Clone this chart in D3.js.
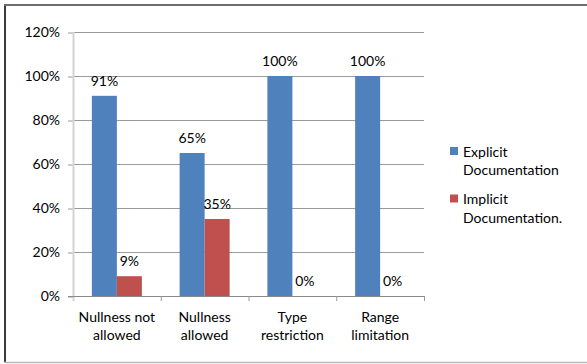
<!DOCTYPE html>
<html>
<head>
<meta charset="utf-8">
<script src="https://cdn.jsdelivr.net/npm/d3@7"></script>
<style>
  body { margin: 0; background: #fff; }
  text { font-family: Lato, "Open Sans", sans-serif; fill: #000; }
</style>
</head>
<body>
<div id="chart"></div>
<script>
const categories = [["Nullness not", "allowed"], ["Nullness", "allowed"], ["Type", "restriction"], ["Range", "limitation"]];
const seriesNames = [["Explicit", "Documentation"], ["Implicit", "Documentation."]];
const explicitValues = [91, 65, 100, 100];
const implicitValues = [9, 35, 0, 0];
const yTicks = [0, 20, 40, 60, 80, 100, 120];
const colors = ["#4F81BD", "#C0504D"];

const width = 587, height = 364;
const svg = d3.select("#chart").append("svg")
  .attr("width", width)
  .attr("height", height);

// outer frame
svg.append("line").attr("x1", 5).attr("x2", 5).attr("y1", 4).attr("y2", 363)
  .attr("stroke", "#3a3a3a").attr("stroke-width", 2);
svg.append("line").attr("x1", 4).attr("x2", 587).attr("y1", 5).attr("y2", 5)
  .attr("stroke", "#6e6e6e").attr("stroke-width", 2);
svg.append("line").attr("x1", 4).attr("x2", 587).attr("y1", 362.5).attr("y2", 362.5)
  .attr("stroke", "#b8b8b8").attr("stroke-width", 1.5);

const plot = { left: 73, right: 424, top: 32, bottom: 296 };

const x0 = d3.scaleBand()
  .domain(d3.range(categories.length))
  .range([plot.left, plot.right])
  .padding(0);

const x1 = d3.scaleBand()
  .domain([0, 1])
  .range([0, x0.bandwidth()])
  .paddingInner(0)
  .paddingOuter(0.755);

const y = d3.scaleLinear()
  .domain([0, 120])
  .range([plot.bottom, plot.top]);

// gridlines
svg.append("g").selectAll("line")
  .data(yTicks.filter(d => d > 0))
  .join("line")
  .attr("x1", plot.left).attr("x2", plot.right)
  .attr("y1", d => Math.round(y(d)) + 0.5).attr("y2", d => Math.round(y(d)) + 0.5)
  .attr("stroke", "#9a9a9a");

// y axis
const gy = svg.append("g")
  .attr("transform", `translate(${plot.left},0)`)
  .call(d3.axisLeft(y).tickValues(yTicks).tickFormat(d => d + "%").tickSize(5).tickPadding(8));
gy.select(".domain").remove();
gy.selectAll(".tick line").attr("stroke", "#9a9a9a")
  .attr("transform", "translate(0,0.5)");
gy.selectAll(".tick text").attr("font-size", 14).attr("fill", "#000")
  .style("font-family", "Lato, sans-serif");
svg.append("line")
  .attr("x1", plot.left + 0.5).attr("x2", plot.left + 0.5)
  .attr("y1", plot.top).attr("y2", plot.bottom + 5)
  .attr("stroke", "#d4d4d4").attr("stroke-width", 2);

// bars
const data = categories.map((c, i) => [explicitValues[i], implicitValues[i]]);
const groups = svg.append("g").selectAll("g")
  .data(data)
  .join("g")
  .attr("transform", (d, i) => `translate(${x0(i)},0)`);

groups.selectAll("rect")
  .data(d => d.map((v, s) => ({ v, s })))
  .join("rect")
  .attr("x", d => x1(d.s))
  .attr("width", x1.bandwidth())
  .attr("y", d => y(d.v))
  .attr("height", d => y(0) - y(d.v))
  .attr("fill", d => colors[d.s]);

groups.selectAll("text.val")
  .data(d => d.map((v, s) => ({ v, s })))
  .join("text")
  .attr("class", "val")
  .attr("x", d => x1(d.s) + x1.bandwidth() / 2)
  .attr("y", d => y(d.v) - 10)
  .attr("text-anchor", "middle")
  .attr("font-size", 14)
  .text(d => d.v + "%");

// x axis
svg.append("line")
  .attr("x1", plot.left - 5).attr("x2", plot.right)
  .attr("y1", plot.bottom + 0.5).attr("y2", plot.bottom + 0.5)
  .attr("stroke", "#8a8a8a");
svg.append("g").selectAll("line")
  .data(d3.range(1, categories.length + 1))
  .join("line")
  .attr("x1", i => x0.step() * i + plot.left + 0.5)
  .attr("x2", i => x0.step() * i + plot.left + 0.5)
  .attr("y1", plot.bottom).attr("y2", plot.bottom + 5)
  .attr("stroke", "#9a9a9a");

const xLabels = svg.append("g").selectAll("text")
  .data(categories)
  .join("text")
  .attr("text-anchor", "middle")
  .attr("font-size", 14)
  .attr("x", (d, i) => x0(i) + x0.bandwidth() / 2);
xLabels.selectAll("tspan")
  .data(d => d)
  .join("tspan")
  .attr("x", function () { return d3.select(this.parentNode).attr("x"); })
  .attr("y", (d, j) => 321.5 + j * 18.5)
  .text(d => d);

// legend
const legend = svg.append("g").selectAll("g")
  .data(seriesNames)
  .join("g")
  .attr("transform", (d, i) => `translate(450,${147 + i * 47.5})`);
legend.append("rect")
  .attr("width", 8).attr("height", 8)
  .attr("fill", (d, i) => colors[i]);
legend.append("text")
  .attr("font-size", 14)
  .selectAll("tspan")
  .data(d => d)
  .join("tspan")
  .attr("x", 13)
  .attr("y", (d, j) => 9.5 + j * 18.5)
  .text(d => d);
</script>
</body>
</html>
